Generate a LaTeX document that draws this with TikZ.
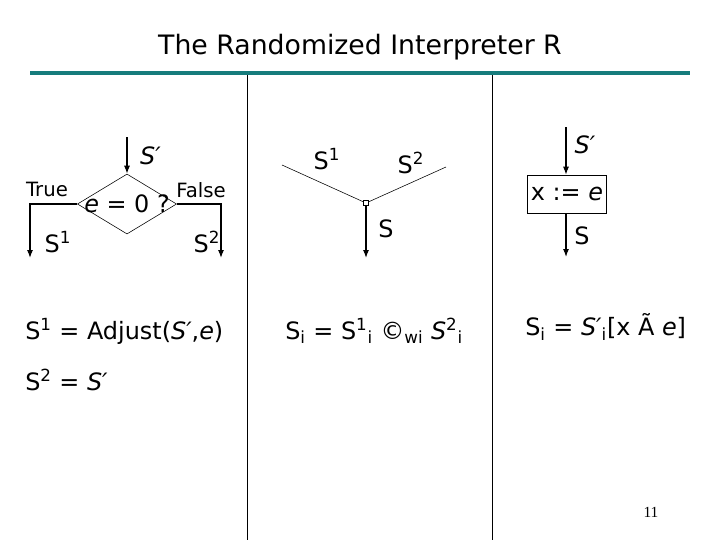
\documentclass[tikz,border=0pt]{standalone}
\usepackage{fontspec}
\setmainfont{DejaVu Sans}
\newfontfamily\pagefont{Liberation Serif}
\usepackage{tikz}
\usetikzlibrary{positioning,arrows.meta,shapes.geometric,calc}
\definecolor{titlerule}{RGB}{22,124,124}
\tikzset{
  decide/.style={diamond,draw=black,thin,inner sep=0pt,minimum width=2.48cm,minimum height=1.5cm},
  assign/.style={rectangle,draw=black,thin,inner sep=0pt,minimum width=1.98cm,minimum height=0.95cm},
  joint/.style={rectangle,draw=black,thin,fill=white,inner sep=0pt,minimum size=3.6pt},
  edge/.style={-{Latex[length=2mm,width=1.5mm]},thick},
  merge/.style={thin},
  lbl/.style={inner sep=1pt,font=\fontsize{17}{20}\selectfont},
  small/.style={inner sep=1pt,font=\fontsize{14}{16}\selectfont},
  eqn/.style={anchor=west,inner sep=0pt,font=\fontsize{17}{20}\selectfont},
  divider/.style={black,line width=0.6pt}
}

\begin{document}
\begin{tikzpicture}[x=0.025cm,y=-0.025cm]
  \useasboundingbox (0,0) rectangle (720,540);
  % title and frame
  \node[font=\fontsize{19}{22}\selectfont] (title) at (360,47) {The Randomized Interpreter R};
  \coordinate (ruleL) at (30,73);
  \coordinate (ruleR) at (690,73);
  \draw[titlerule,line width=3pt] (ruleL) -- (ruleR);
  \coordinate (divA) at (247,75);
  \coordinate (divAend) at (247,540);
  \coordinate (divB) at (492,75);
  \coordinate (divBend) at (492,540);
  \draw[divider] (divA) -- (divAend);
  \draw[divider] (divB) -- (divBend);

  % if-then-else
  \coordinate (ifin) at (127,137);
  \node[decide,label={center:{\fontsize{17}{20}\selectfont\itshape e\upshape{} = 0 ?}}] (test) at (127,204) {};
  \coordinate (tout) at (30,258);
  \coordinate (fout) at (221,258);
  \draw[edge] (ifin) -- node[lbl,right,xshift=8pt]{\itshape S′} (test.north);
  \draw[edge] (test.west) -| (tout);
  \draw[edge] (test.east) -| (fout);
  \node[small] (true) at (47,189) {True};
  \node[small] (false) at (201,190) {False};
  \node[lbl] (s1) at (58,242) {S\textsuperscript{1}};
  \node[lbl] (s2) at (207,242) {S\textsuperscript{2}};

  % merge
  \node[joint] (join) at (366,203) {};
  \coordinate (min1) at (282,165);
  \coordinate (min2) at (446,167);
  \coordinate (mout) at (366,258);
  \draw[merge] (min1) -- (join);
  \draw[merge] (min2) -- (join);
  \draw[edge] (join) -- (mout);
  \node[lbl] (m1) at (327,159) {S\textsuperscript{1}};
  \node[lbl] (m2) at (411,163) {S\textsuperscript{2}};
  \node[lbl] (ms) at (386,229) {S};

  % assignment
  \coordinate (ain) at (566,127);
  \node[assign,font=\fontsize{17}{20}\selectfont] (asg) at (567,194) {x := \itshape e};
  \coordinate (aout) at (566,257);
  \draw[edge] (ain) -- (ain|-asg.north);
  \draw[edge] (ain|-asg.south) -- (aout);
  \node[lbl] (a1) at (585,145) {\itshape S′};
  \node[lbl] (a2) at (582,236) {S};

  % equations
  \node[eqn] (eq1) at (25,331) {S\textsuperscript{1} = Adjust({\itshape S′},{\itshape e})};
  \node[eqn] (eq2) at (25,380) {S\textsuperscript{2} = {\itshape S′}};
  \node[eqn] (eq3) at (285,331) {S\textsubscript{i} = S\textsuperscript{1}\textsubscript{i} ©\textsubscript{wi} {\itshape S}\textsuperscript{2}\textsubscript{i}};
  \node[eqn] (eq4) at (525,327) {S\textsubscript{i} = {\itshape S′}\textsubscript{i}[x Ã {\itshape e}]};

  \node[font=\pagefont\fontsize{11}{13}\selectfont] (page) at (651,512) {11};
\end{tikzpicture}
\end{document}
